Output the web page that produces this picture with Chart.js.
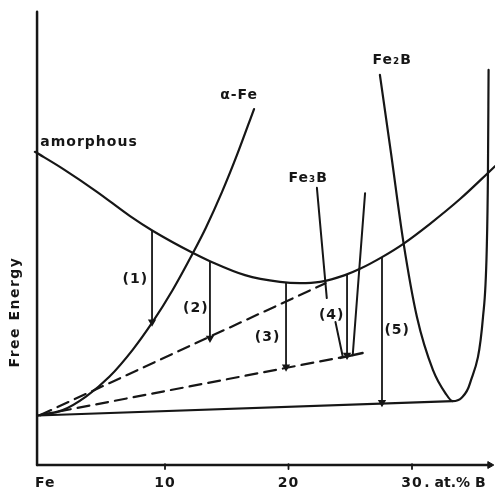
<!DOCTYPE html>
<html>
<head>
<meta charset="utf-8">
<script src="https://cdn.jsdelivr.net/npm/chart.js@4.4.1/dist/chart.umd.min.js"></script>
<style>
  html, body { margin: 0; padding: 0; background: #fff; }
  #wrap { width: 495px; height: 494px; }
</style>
</head>
<body>
<div id="wrap"><canvas id="chart"></canvas></div>
<script>
// composition in at.% B, free energy in arbitrary units
const xTicks = [10, 20, 30];
const xTickLabels = ['10', '20', '30'];

const amorphousX = [-0.53, 1.74, 4.49, 7.17, 9.03, 12.27, 13.64, 16.48, 19.31, 20.93, 22.55, 24.57, 25.79, 27.57, 29.27, 31.46, 33.89, 36.15, 36.72];
const amorphousY = [69.6, 65.8, 60.7, 55.3, 52.0, 47.1, 45.3, 42.2, 40.7, 40.4, 40.7, 42.2, 43.6, 46.2, 49.1, 53.6, 59.1, 64.9, 66.4];

const alphaFeX = [-0.3, 1.72, 3.6, 5.49, 7.38, 9.0, 10.62, 12.24, 13.32, 14.62, 15.83, 17.21];
const alphaFeY = [11.0, 12.2, 15.2, 19.6, 25.6, 31.8, 38.9, 47.0, 52.8, 60.7, 68.9, 79.1];

const fe2bX = [27.4, 28.3, 29.3, 30.4, 31.7, 32.7, 33.3, 34.0, 34.7, 35.75, 36.05, 36.15, 36.2];
const fe2bY = [86.7, 69.3, 49.6, 32.9, 21.1, 16.0, 14.2, 14.9, 18.2, 32.9, 47.8, 65.1, 87.8];

const fe3bLeftX = [22.3, 23.1];
const fe3bLeftY = [61.6, 37.1];
const fe3bFootX = [23.8, 24.4];
const fe3bFootY = [31.8, 24.0];
const fe3bBarX = [24.2, 26.0];
const fe3bBarY = [23.8, 24.9];
const fe3bRightX = [25.2, 26.2];
const fe3bRightY = [24.4, 60.4];

const tangentX = [-0.3, 33.3];
const tangentY = [11.0, 14.2];
const dashUpperX = [-0.1, 23.0];
const dashUpperY = [11.1, 40.4];
const dashLowerX = [-0.1, 24.4];
const dashLowerY = [11.1, 24.0];

// transformation arrows (1)..(5): composition, start energy, end energy
const arrowNames = ['(1)', '(2)', '(3)', '(4)', '(5)'];
const arrowX = [8.95, 13.64, 19.8, 24.74, 27.57];
const arrowFrom = [52.1, 45.3, 40.6, 42.4, 46.2];
const arrowTo = [31.8, 28.2, 21.8, 24.4, 13.9];

const INK = '#161616';

function pts(xs, ys) {
    return xs.map((x, i) => ({x: x, y: ys[i]}));
}

function curve(xs, ys, width, smooth, dash) {
    return {
        data: pts(xs, ys),
        showLine: true,
        borderColor: INK,
        borderWidth: width,
        cubicInterpolationMode: smooth ? 'monotone' : 'default',
        tension: 0,
        borderDash: dash || [],
        pointRadius: 0,
        borderCapStyle: 'round'
    };
}

const datasets = [
    curve([-0.36, -0.36], [0, 100.7], 2.5, false),
    curve([-0.36, 36.2], [0, 0], 2.5, false),
    curve(amorphousX, amorphousY, 2.2, true),
    curve(alphaFeX, alphaFeY, 2.2, true),
    curve(fe2bX, fe2bY, 2.2, true),
    curve(fe3bLeftX, fe3bLeftY, 2, false),
    curve(fe3bFootX, fe3bFootY, 2, false),
    curve(fe3bBarX, fe3bBarY, 2.4, false),
    curve(fe3bRightX, fe3bRightY, 2, false),
    curve(tangentX, tangentY, 2.2, false),
    curve(dashUpperX, dashUpperY, 2.2, false, [12, 7]),
    curve(dashLowerX, dashLowerY, 2.2, false, [12, 7])
];

// x-axis arrowhead
datasets.push({
    data: [{x: 36.3, y: 0}],
    pointStyle: 'triangle',
    rotation: 90,
    pointRadius: 4,
    pointBackgroundColor: INK,
    pointBorderColor: INK,
    showLine: false
});

// tick marks
xTicks.forEach(t => {
    datasets.push(curve([t, t], [0.2, -0.9], 1.8, false));
});

arrowX.forEach((x, i) => {
    datasets.push({
        data: [{x: x, y: arrowFrom[i]}, {x: x, y: arrowTo[i]}],
        showLine: true,
        borderColor: INK,
        borderWidth: 1.8,
        pointStyle: 'triangle',
        rotation: 180,
        pointRadius: [0, 3],
        pointBackgroundColor: INK,
        pointBorderColor: INK
    });
});

// text annotations, placed in data coordinates
const notes = [
    {text: 'amorphous', x: -0.1, y: 71.8, align: 'left'},
    {text: 'α-Fe', x: 16.0, y: 82.2, align: 'center'},
    {text: 'Fe₃B', x: 21.6, y: 63.8, align: 'center'},
    {text: 'Fe₂B', x: 28.4, y: 90.0, align: 'center'},
    {text: '(1)', x: 7.6, y: 41.3, align: 'center'},
    {text: '(2)', x: 12.5, y: 34.9, align: 'center'},
    {text: '(3)', x: 18.3, y: 28.4, align: 'center'},
    {text: '(4)', x: 23.5, y: 33.3, align: 'center'},
    {text: '(5)', x: 28.8, y: 30.0, align: 'center'}
];

const textPlugin = {
    id: 'texts',
    afterDatasetsDraw(chart) {
        const ctx = chart.ctx;
        const xs = chart.scales.x, ys = chart.scales.y;
        ctx.save();
        ctx.fillStyle = INK;
        ctx.textBaseline = 'middle';
        ctx.font = 'bold 14px "DejaVu Sans"';
        ctx.letterSpacing = '1px';
        notes.forEach(n => {
            ctx.textAlign = n.align;
            ctx.fillText(n.text, xs.getPixelForValue(n.x), ys.getPixelForValue(n.y));
        });
        // axis labels under the x axis
        const yb = ys.getPixelForValue(-4.0);
        ctx.textAlign = 'center';
        ctx.fillText('Fe', xs.getPixelForValue(0.3), yb);
        xTicks.forEach((t, i) => ctx.fillText(xTickLabels[i], xs.getPixelForValue(t), yb));
        ctx.textAlign = 'left';
        ctx.letterSpacing = '0px';
        ctx.fillText('. at.% B', xs.getPixelForValue(31.0), yb);
        // y title
        ctx.letterSpacing = '1.5px';
        ctx.translate(15, ys.getPixelForValue(34));
        ctx.rotate(-Math.PI / 2);
        ctx.textAlign = 'center';
        ctx.fillText('Free Energy', 0, 0);
        ctx.restore();
    }
};

new Chart(document.getElementById('chart'), {
    type: 'scatter',
    data: {datasets: datasets},
    options: {
        responsive: true,
        maintainAspectRatio: false,
        animation: false,
        layout: {padding: 0, autoPadding: false},
        plugins: {legend: {display: false}, tooltip: {enabled: false}},
        scales: {
            x: {type: 'linear', display: false, min: -3.36, max: 36.72},
            y: {type: 'linear', display: false, min: -6.44, max: 103.33}
        }
    },
    plugins: [textPlugin]
});
</script>
</body>
</html>
